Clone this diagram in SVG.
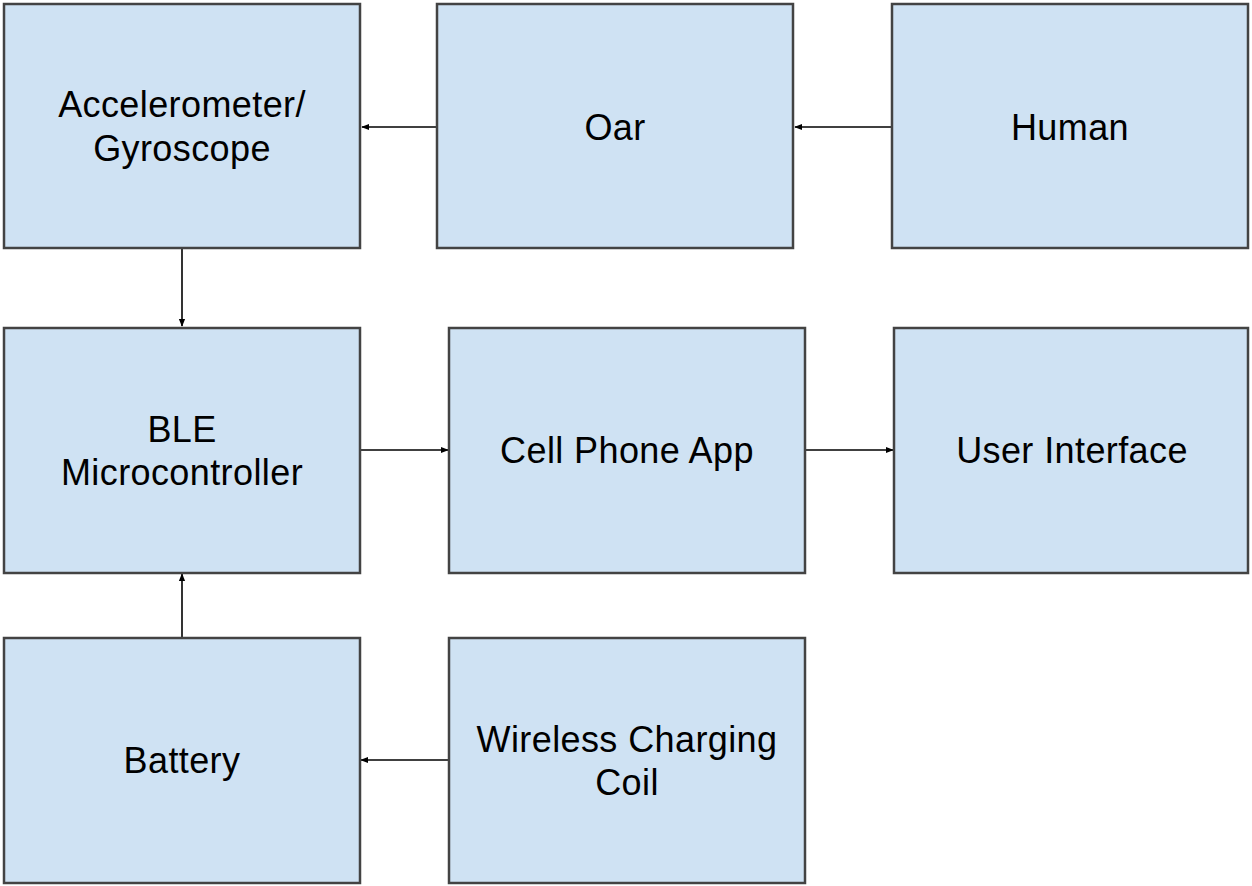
<svg xmlns="http://www.w3.org/2000/svg" width="1252" height="886" viewBox="0 0 1252 886">
<defs>
<style>
.box{fill:#cfe2f3;stroke:#434343;stroke-width:2.5}
.lbl{font-family:"Liberation Sans",Arial,sans-serif;font-size:36px;letter-spacing:0.4px;fill:#000;text-anchor:middle}
.edge{stroke:#000;stroke-width:1.6;fill:none;marker-end:url(#ah)}
</style>
<marker id="ah" viewBox="0 0 10 10" refX="9" refY="5" markerWidth="8" markerHeight="8" orient="auto" markerUnits="userSpaceOnUse">
<path d="M0,1 L10,5 L0,9 z" fill="#000"/>
</marker>
</defs>
<rect width="1252" height="886" fill="#fff"/>
<g id="connectors">
<line class="edge" x1="436" y1="127" x2="362" y2="127"/>
<line class="edge" x1="892" y1="127" x2="795" y2="127"/>
<line class="edge" x1="182" y1="248" x2="182" y2="326"/>
<line class="edge" x1="361" y1="450" x2="448" y2="450"/>
<line class="edge" x1="805" y1="450" x2="893" y2="450"/>
<line class="edge" x1="182" y1="637" x2="182" y2="574"/>
<line class="edge" x1="449" y1="760" x2="361" y2="760"/>
</g>
<g id="accel"><rect class="box" x="4" y="4" width="356" height="244"/><text class="lbl" x="182" y="117">Accelerometer/</text><text class="lbl" x="182" y="161">Gyroscope</text></g>
<g id="oar"><rect class="box" x="437" y="4" width="356" height="244"/><text class="lbl" x="615" y="140">Oar</text></g>
<g id="human"><rect class="box" x="892" y="4" width="356" height="244"/><text class="lbl" x="1070" y="140">Human</text></g>
<g id="ble"><rect class="box" x="4" y="328" width="356" height="245"/><text class="lbl" x="182" y="442">BLE</text><text class="lbl" x="182" y="485">Microcontroller</text></g>
<g id="app"><rect class="box" x="449" y="328" width="356" height="245"/><text class="lbl" x="627" y="463">Cell Phone App</text></g>
<g id="ui"><rect class="box" x="894" y="328" width="354" height="245"/><text class="lbl" x="1072" y="463">User Interface</text></g>
<g id="battery"><rect class="box" x="4" y="638" width="356" height="245"/><text class="lbl" x="182" y="773">Battery</text></g>
<g id="coil"><rect class="box" x="449" y="638" width="356" height="245"/><text class="lbl" x="627" y="752">Wireless Charging</text><text class="lbl" x="627" y="795">Coil</text></g>
</svg>
